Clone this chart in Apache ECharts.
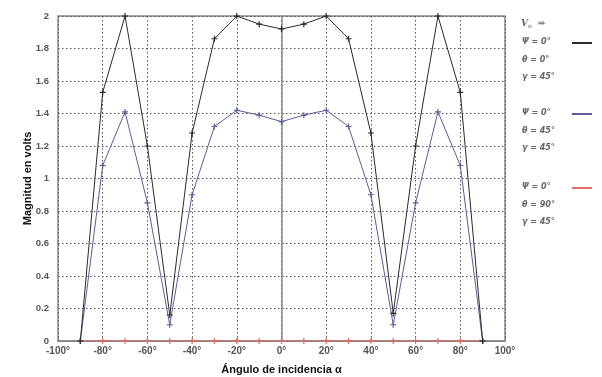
<!DOCTYPE html>
<html><head><meta charset="utf-8">
<script src="https://cdn.jsdelivr.net/npm/echarts@6/dist/echarts.min.js"></script>
<style>html,body{margin:0;padding:0;background:#fff}#c{width:602px;height:377px}</style>
</head><body><div id="c"></div>
<script>
var angles = [-90,-80,-70,-60,-50,-40,-30,-20,-10,0,10,20,30,40,50,60,70,80,90];
var seriesBlack = [0,1.53,2.0,1.2,0.16,1.28,1.86,2.0,1.95,1.92,1.95,2.0,1.86,1.28,0.17,1.2,2.0,1.53,0];
var seriesBlue = [0,1.08,1.41,0.85,0.1,0.9,1.32,1.42,1.39,1.35,1.39,1.42,1.32,0.9,0.1,0.85,1.41,1.08,0];
var seriesRed = [0,0,0,0,0,0,0,0,0,0,0,0,0,0,0,0,0,0,0];
var xTickStep = 20, yTickStep = 0.2;
var legendGroups = [
  ['Ψ = 0°','θ = 0°','γ = 45°'],
  ['Ψ = 0°','θ = 45°','γ = 45°'],
  ['Ψ = 0°','θ = 90°','γ = 45°']
];
var colors = ['#2a2a2a','#5a5c9c','#e36a5e'];

function pairs(ys){ return angles.map(function(a,i){return [a, ys[i]];}); }
var plus = 'path://M4,0h2v4h4v2h-4v4h-2v-4h-4v-2h4z';

var chart = echarts.init(document.getElementById('c'), null, {renderer:'canvas'});
var lblFont = {color:'#555', fontFamily:'Liberation Sans', fontWeight:'bold', fontSize:10};
var graphic = [
  {type:'text', left:521, top:19, style:{text:'{v|V}{s|o}{v|  ⇒}', rich:{v:{fontFamily:'DejaVu Serif',fontStyle:'italic',fontWeight:'bold',fontSize:9,fill:'#666'}, s:{fontFamily:'DejaVu Serif',fontStyle:'italic',fontSize:6,fill:'#666',padding:[5,0,0,0]}}}}
];
var groupTops = [38, 109, 183];
legendGroups.forEach(function(g, gi){
  g.forEach(function(t, ti){
    graphic.push({type:'text', left:522, top:groupTops[gi] + ti*17.5, style:{text:t, fontFamily:'DejaVu Sans', fontWeight:'bold', fontStyle:'italic', fontSize:8, fill:'#666'}});
  });
  graphic.push({type:'line', shape:{x1:572, y1:groupTops[gi]+5, x2:592, y2:groupTops[gi]+5}, style:{stroke:colors[gi], lineWidth:2}});
});

chart.setOption({
  animation:false,
  backgroundColor:'#fff',
  grid:{left:58, right:97, top:16, bottom:36, containLabel:false, outerBoundsMode:'none', show:true, borderColor:'#888', borderWidth:1.5, backgroundColor:'transparent'},
  xAxis:{type:'value', min:-100, max:100, interval:xTickStep,
    name:'Ángulo de incidencia α', nameLocation:'middle', nameGap:23, nameMoveOverlap:false,
    nameTextStyle:{color:'#111', fontFamily:'Liberation Sans', fontWeight:'bold', fontSize:11},
    axisLine:{show:true, lineStyle:{color:'#888', width:1.5}},
    axisTick:{show:true, inside:true, length:3, lineStyle:{color:'#888'}},
    axisLabel:Object.assign({margin:5, formatter:function(v){return v+'°';}}, lblFont),
    splitLine:{show:true, lineStyle:{color:'#555', type:[1.5,2.5], width:1}}
  },
  yAxis:{type:'value', min:0, max:2, interval:yTickStep,
    name:'Magnitud en volts', nameLocation:'middle', nameGap:25, nameRotate:90, nameMoveOverlap:false,
    nameTextStyle:{color:'#111', fontFamily:'Liberation Sans', fontWeight:'bold', fontSize:11},
    axisLine:{show:true, lineStyle:{color:'#888', width:1.5}},
    axisTick:{show:true, inside:true, length:3, lineStyle:{color:'#888'}},
    axisLabel:Object.assign({margin:9, formatter:function(v){return Math.round(v*10)/10+'';}}, lblFont, {fontSize:9.5}),
    splitLine:{show:true, lineStyle:{color:'#555', type:[1.5,2.5], width:1}}
  },
  graphic:graphic,
  series:[
    {type:'line', data:pairs(seriesRed), symbol:plus, symbolSize:6, showAllSymbol:true, lineStyle:{color:colors[2], width:1.2}, itemStyle:{color:colors[2]}, z:3},
    {type:'line', data:pairs(seriesBlue), symbol:plus, symbolSize:6, showAllSymbol:true, lineStyle:{color:colors[1], width:1}, itemStyle:{color:colors[1]}, z:4},
    {type:'line', data:pairs(seriesBlack), symbol:plus, symbolSize:6, showAllSymbol:true, lineStyle:{color:colors[0], width:1}, itemStyle:{color:colors[0]}, z:5}
  ]
});
</script></body></html>
